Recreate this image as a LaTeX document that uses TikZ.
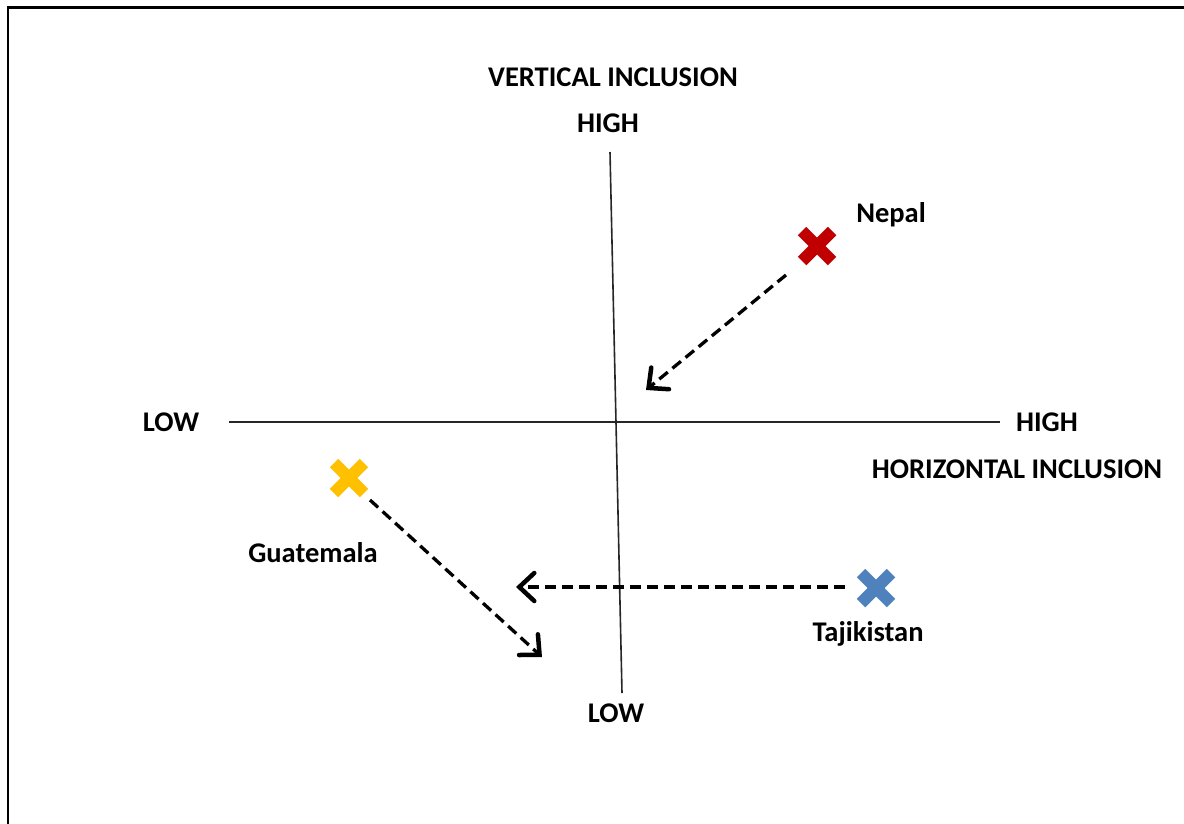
\documentclass[tikz,border=0pt]{standalone}
\usepackage{fontspec}
\setmainfont{Carlito}
\usetikzlibrary{arrows.meta}
\definecolor{nepalred}{HTML}{C00000}
\definecolor{guatyellow}{HTML}{FFC000}
\definecolor{tajblue}{HTML}{4F81BD}
\tikzset{
  lbl/.style={font=\fontsize{28.5}{31}\selectfont\bfseries, text=black, inner sep=0pt},
  axisline/.style={line width=1.6pt, black!85},
  move/.style={line width=3.3pt, dash pattern=on 11pt off 6pt, -{Straight Barb[length=15pt,width=28pt,line width=4.5pt,line cap=round]}},
  crossarm/.style={line width=12pt, line cap=butt},
}
\newcommand{\mkcross}[3]{% name, position, colour
  \coordinate (#1) at (#2);
  \draw[crossarm, #3] ([shift={(-15,-15)}]#1) -- ([shift={(15,15)}]#1);
  \draw[crossarm, #3] ([shift={(-15,15)}]#1) -- ([shift={(15,-15)}]#1);
}
\begin{document}
\begin{tikzpicture}[x=1pt,y=-1pt]
\useasboundingbox (0,0) rectangle (1184,823);
\fill[white] (0,0) rectangle (1184,823);
\draw[line width=2.5pt] (8,840) -- (8,7.5) -- (1200,7.5);

% axes
\coordinate (vtop) at (610,152);
\coordinate (vbot) at (622,693);
\coordinate (hleft) at (229,422);
\coordinate (hright) at (1000,422);
\draw[axisline] (vtop) -- (vbot);
\draw[axisline] (hleft) -- (hright);

% labels
\node[lbl] (vi) at (613,77) {VERTICAL INCLUSION};
\node[lbl] (vhigh) at (608,123) {HIGH};
\node[lbl] (vlow) at (616,713) {LOW};
\node[lbl] (hlow) at (171,422) {LOW};
\node[lbl] (hhigh) at (1047,422) {HIGH};
\node[lbl] (hi) at (1017,469) {HORIZONTAL INCLUSION};

% countries
\mkcross{nepal}{817,246}{nepalred}
\mkcross{guat}{349,478}{guatyellow}
\mkcross{taj}{876,588}{tajblue}
\node[lbl] (nepallbl) at (891,215) {Nepal};
\node[lbl] (guatlbl) at (313,553) {Guatemala};
\node[lbl] (tajlbl) at (868,634) {Tajikistan};

% movements
\coordinate (n1) at (786,275);
\coordinate (n2) at (646,390);
\coordinate (g1) at (370,500);
\coordinate (g2) at (542,657);
\coordinate (t1) at (845,587);
\coordinate (t2) at (516,587);
\draw[move] (n1) -- (n2);
\draw[move] (g1) -- (g2);
\draw[move] (t1) -- (t2);
\end{tikzpicture}
\end{document}
